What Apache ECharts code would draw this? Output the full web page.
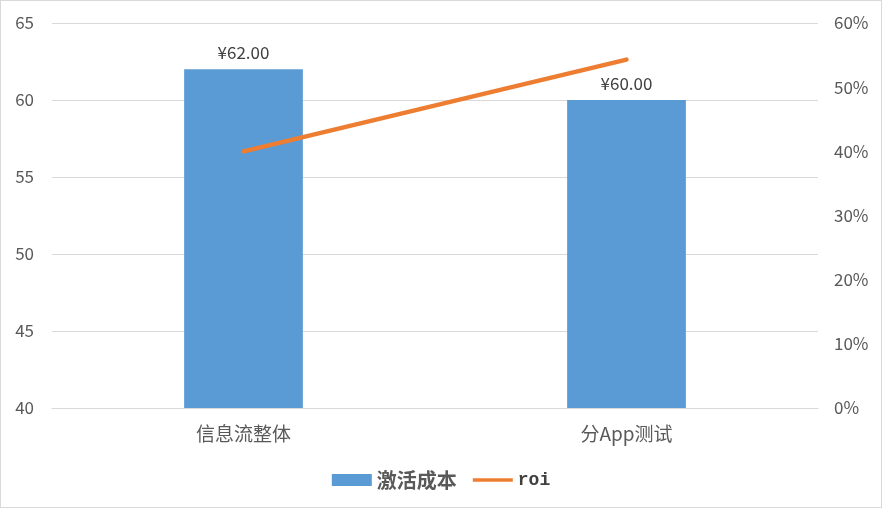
<!DOCTYPE html>
<html><head><meta charset="utf-8">
<script src="https://cdn.jsdelivr.net/npm/echarts@6/dist/echarts.min.js"></script>
<style>
html,body{margin:0;padding:0;background:#fff;}
#c{width:882px;height:508px;box-sizing:border-box;border:1px solid #d9d9d9;}
</style></head>
<body><div id="c"></div>
<script>
const categories = ['信息流整体', '分App测试'];
const costValues = [62, 60];
const roiValues = [40, 54.3];
const leftTicks = [40, 45, 50, 55, 60, 65];
const rightTicks = [0, 10, 20, 30, 40, 50, 60];

const chart = echarts.init(document.getElementById('c'));
chart.setOption({
  animation: false,
  textStyle: {fontFamily: '"Noto Sans CJK SC", "Open Sans", sans-serif'},
  grid: {left: 51, right: 63, top: 22, bottom: 99, containLabel: false},
  legend: {
    bottom: 12, left: 'center', itemGap: 16,
    formatter: n => n === 'roi' ? '{m|roi}' : '{c|' + n + '}',
    textStyle: {
      rich: {
        c: {fontSize: 20, color: '#595959', fontFamily: '"Noto Sans CJK SC", serif', fontWeight: 'bold'},
        m: {fontSize: 18, color: '#404040', fontFamily: '"Liberation Mono", "DejaVu Sans Mono", monospace', fontWeight: 'bold'}
      }
    },
    data: [
      {name: '激活成本', icon: 'rect', itemStyle: {color: '#5b9bd5'}},
      {name: 'roi', icon: 'path://M0,0 L44,0 L44,4 L0,4 Z', itemStyle: {color: '#ed7d31'}}
    ],
    itemWidth: 40, itemHeight: 12
  },
  xAxis: {
    type: 'category', data: categories,
    axisLine: {lineStyle: {color: '#d9d9d9'}},
    axisTick: {show: false},
    axisLabel: {fontSize: 19, color: '#595959', margin: 16}
  },
  yAxis: [
    {type: 'value', min: leftTicks[0], max: leftTicks[leftTicks.length-1], interval: 5,
     axisLine: {show: false}, axisTick: {show: false},
     axisLabel: {fontSize: 17, color: '#595959', margin: 18},
     splitLine: {lineStyle: {color: '#d9d9d9', width: 1}}},
    {type: 'value', min: rightTicks[0], max: rightTicks[rightTicks.length-1], interval: 10,
     axisLine: {show: false}, axisTick: {show: false},
     axisLabel: {fontSize: 17, color: '#595959', margin: 16, formatter: v => v + '%'},
     splitLine: {show: false}}
  ],
  series: [
    {name: '激活成本', type: 'bar', data: costValues, barWidth: '31%',
     itemStyle: {color: '#5b9bd5'},
     label: {show: true, position: 'top', distance: 8, fontSize: 17, color: '#404040',
             formatter: p => '¥' + p.value.toFixed(2)}},
    {name: 'roi', type: 'line', yAxisIndex: 1, data: roiValues,
     symbol: 'none', lineStyle: {color: '#ed7d31', width: 4.5, cap: 'round'},
     itemStyle: {color: '#ed7d31'}}
  ]
});
</script></body></html>
